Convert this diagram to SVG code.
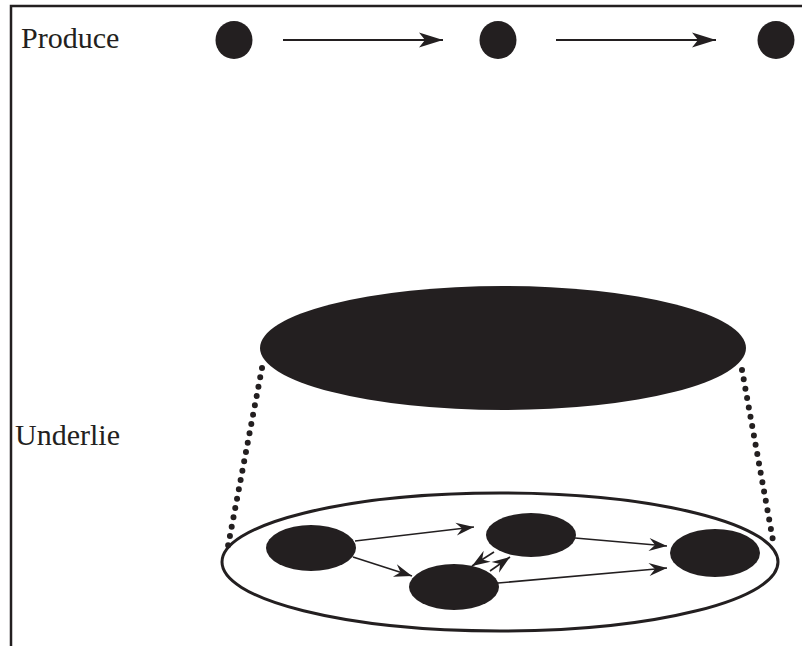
<svg xmlns="http://www.w3.org/2000/svg" width="802" height="646" viewBox="0 0 802 646">
<style>
.lbl{font-family:"Liberation Serif","Times New Roman",serif;font-size:30px;fill:#231f20}
.blk{fill:#231f20}
.arr{stroke:#231f20;fill:none}
.dots{stroke:#231f20;stroke-width:6;stroke-linecap:round;stroke-dasharray:0 9.5;fill:none}
</style>
<defs>
<marker id="big" markerUnits="userSpaceOnUse" markerWidth="30" markerHeight="20" viewBox="-25 -10 30 20" refX="0" refY="0" orient="auto">
<path d="M0,0 L-24,-7.5 L-18,0 L-24,7.5 Z" fill="#231f20"/>
</marker>
<marker id="sm" markerUnits="userSpaceOnUse" markerWidth="22" markerHeight="18" viewBox="-20 -9 22 18" refX="0" refY="0" orient="auto">
<path d="M0,0 L-18,-6.5 L-12,0 L-18,6.5 Z" fill="#231f20"/>
</marker>
</defs>
<rect width="802" height="646" fill="#fff"/>
<g id="frame">
<path d="M11,646 L11,6 L802,6" fill="none" stroke="#231f20" stroke-width="2.5"/>
</g>
<g id="labels">
<text class="lbl" x="21" y="48">Produce</text>
<text class="lbl" x="15" y="445">Underlie</text>
</g>
<g id="top-nodes">
<ellipse id="p1" class="blk" cx="234" cy="40" rx="18.5" ry="19"/>
<ellipse id="p2" class="blk" cx="498" cy="40" rx="18.5" ry="19"/>
<ellipse id="p3" class="blk" cx="776" cy="40" rx="18.5" ry="19"/>
</g>
<g id="whole">
<ellipse class="blk" cx="503" cy="348" rx="243" ry="62"/>
</g>
<g id="system">
<ellipse cx="500" cy="562" rx="278" ry="69" fill="#fff" stroke="#231f20" stroke-width="3"/>
</g>
<g id="parts">
<ellipse id="a" class="blk" cx="311" cy="548" rx="45" ry="23"/>
<ellipse id="b" class="blk" cx="531" cy="535" rx="45" ry="22"/>
<ellipse id="c" class="blk" cx="454" cy="587" rx="45" ry="23"/>
<ellipse id="d" class="blk" cx="715" cy="553" rx="45" ry="24"/>
</g>
<g id="connectors">
<line class="arr" x1="283" y1="40" x2="443" y2="40" stroke-width="2" marker-end="url(#big)"/>
<line class="arr" x1="556" y1="40" x2="716" y2="40" stroke-width="2" marker-end="url(#big)"/>
<line class="dots" x1="262" y1="368" x2="228" y2="546"/>
<line class="dots" x1="742" y1="370" x2="774" y2="546"/>
<line class="arr" x1="355" y1="541" x2="474" y2="527" stroke-width="1.6" marker-end="url(#sm)"/>
<line class="arr" x1="353" y1="557" x2="412" y2="576" stroke-width="1.6" marker-end="url(#sm)"/>
<line class="arr" x1="575" y1="538" x2="667" y2="546" stroke-width="1.6" marker-end="url(#sm)"/>
<line class="arr" x1="498" y1="583" x2="667" y2="568" stroke-width="1.6" marker-end="url(#sm)"/>
<line class="arr" x1="494" y1="552" x2="472" y2="566" stroke-width="1.6" marker-end="url(#sm)"/>
<line class="arr" x1="490" y1="571" x2="510" y2="557" stroke-width="1.6" marker-end="url(#sm)"/>
</g>
</svg>
